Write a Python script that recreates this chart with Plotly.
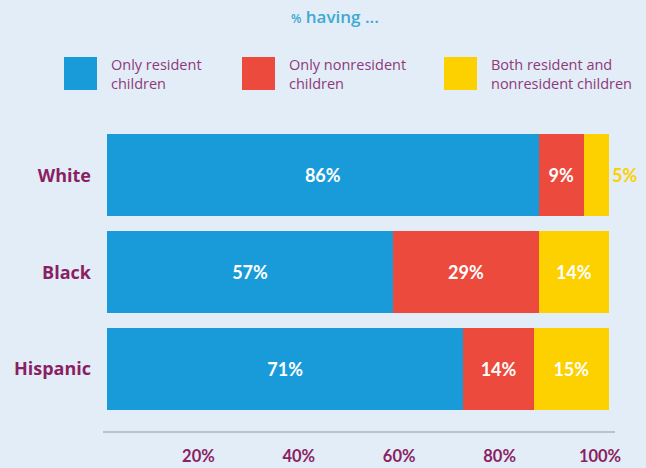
import plotly.graph_objects as go

# Data
groups = ["White", "Black", "Hispanic"]
series_names = [
    "Only resident<br>children",
    "Only nonresident<br>children",
    "Both resident and<br>nonresident children",
]
only_resident = [86, 57, 71]
only_nonresident = [9, 29, 14]
both = [5, 14, 15]
tick_values = [20, 40, 60, 80, 100]
tick_labels = ["20%", "40%", "60%", "80%", "100%"]

colors = ["#1a9bd9", "#ec4a3c", "#fdd000"]
BG = "#e2edf8"
PURPLE = "#8b1f63"
LEGEND_PURPLE = "#8e3a78"
TEAL = "#3ea9d2"
NUM_FONT = "Lato"
TXT_FONT = "Open Sans"

W, H = 646, 468
ML, MR, MT, MB = 107, 37, 127, 35
PW, PH = W - ML - MR, H - MT - MB


def fx(px):
    return (px - ML) / PW


def fy(py):
    return (H - MB - py) / PH


fig = go.Figure()
series_values = [only_resident, only_nonresident, both]
for i, (name, vals) in enumerate(zip(series_names, series_values)):
    last = i == len(series_values) - 1
    # the thin top segment carries its label outside the bar end
    positions = ["outside" if (last and v < 8) else "inside" for v in vals]
    font_colors = [colors[i] if p == "outside" else "white" for p in positions]
    fig.add_trace(go.Bar(
        y=groups, x=vals, orientation="h", name=name,
        marker=dict(color=colors[i], line=dict(width=0)),
        text=[f"{v}%" for v in vals],
        textposition=positions,
        insidetextanchor="middle",
        textfont=dict(family=NUM_FONT, size=18, color=font_colors, weight=700),
        cliponaxis=False,
        showlegend=False,
        hoverinfo="skip",
    ))

shapes = []
annotations = []

# Legend: colour swatch plus two-line label for each series
legend_boxes = [64, 242, 444]
for name, color, x0 in zip(series_names, colors, legend_boxes):
    shapes.append(dict(type="rect", xref="paper", yref="paper",
                       x0=fx(x0), x1=fx(x0 + 33), y0=fy(90), y1=fy(57),
                       fillcolor=color, line=dict(width=0), layer="above"))
    annotations.append(dict(xref="paper", yref="paper", x=fx(x0 + 45), y=fy(74.5),
                            text=name, showarrow=False, xanchor="left", yanchor="middle",
                            align="left",
                            font=dict(family=TXT_FONT, size=14.5, color=LEGEND_PURPLE,
                                      weight=500)))

# Title above the legend
annotations.append(dict(xref="paper", yref="paper", x=fx(335), y=fy(17),
                        text="<span style='font-size:12px'>%</span> having ...",
                        showarrow=False, xanchor="center", yanchor="middle",
                        font=dict(family=TXT_FONT, size=17, color=TEAL, weight=600)))

# Baseline under the bars
shapes.append(dict(type="line", xref="paper", yref="paper",
                   x0=fx(103), x1=fx(615), y0=fy(432), y1=fy(432),
                   line=dict(color="#a9b5c2", width=1.5)))

fig.update_layout(
    barmode="stack",
    bargap=0.153,
    width=W, height=H,
    margin=dict(l=ML, r=MR, t=MT, b=MB, pad=0, autoexpand=False),
    paper_bgcolor=BG, plot_bgcolor=BG,
    shapes=shapes, annotations=annotations,
    xaxis=dict(range=[0, 100], tickvals=tick_values, ticktext=tick_labels,
               showgrid=False, zeroline=False, showline=False, ticks="",
               automargin=False,
               ticklabelstandoff=11, ticklabelshift=-9,
               tickfont=dict(family=NUM_FONT, size=16.5, color=PURPLE, weight=700)),
    yaxis=dict(type="category", categoryorder="array", categoryarray=groups,
               range=[2.66, -0.5], showgrid=False, zeroline=False, showline=False,
               ticks="", ticklabelstandoff=15, automargin=False,
               tickfont=dict(family=TXT_FONT, size=18, color=PURPLE, weight=700)),
)

fig.write_html("out.html")
